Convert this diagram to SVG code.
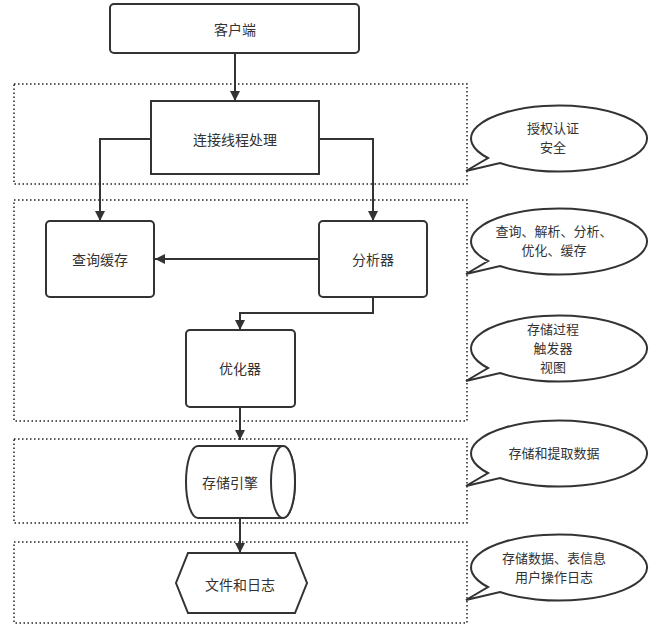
<svg xmlns="http://www.w3.org/2000/svg" width="652" height="640" viewBox="0 0 652 640">
<defs>
<style>
.node{fill:#fff;stroke:#333;stroke-width:2}
.grp{fill:none;stroke:#222;stroke-width:1.5;stroke-dasharray:1.5,2.5}
.edge{fill:none;stroke:#333;stroke-width:2}
.t{font-family:"Noto Sans CJK SC","Liberation Sans",sans-serif;font-size:14px;fill:#333;text-anchor:middle;dominant-baseline:central}
.c{font-size:13px}
.call{fill:#fff;stroke:#333;stroke-width:2}
</style>
<marker id="arr" viewBox="0 0 10 10" refX="10" refY="5" markerWidth="10" markerHeight="10" markerUnits="userSpaceOnUse" orient="auto">
<path d="M0,0 L10,5 L0,10 Z" fill="#333"/>
</marker>
</defs>
<rect width="652" height="640" fill="#fff"/>
<g id="groups">
<rect class="grp" x="14" y="84" width="453" height="100"/>
<rect class="grp" x="14" y="200" width="453" height="221"/>
<rect class="grp" x="14" y="439" width="453" height="84"/>
<rect class="grp" x="14" y="542" width="453" height="81"/>
</g>
<g id="connectors">
<path class="edge" d="M235,53 V101" marker-end="url(#arr)"/>
<path class="edge" d="M151,139 H100 V221" marker-end="url(#arr)"/>
<path class="edge" d="M319,139 H373 V221" marker-end="url(#arr)"/>
<path class="edge" d="M319,259 H155" marker-end="url(#arr)"/>
<path class="edge" d="M373,297 V313 H240 V330" marker-end="url(#arr)"/>
<path class="edge" d="M240,407 V440" marker-end="url(#arr)"/>
<path class="edge" d="M240,518 V553" marker-end="url(#arr)"/>
</g>
<g id="client">
<rect class="node" x="110" y="4" width="249" height="49" rx="4"/>
<text class="t" x="235" y="29">客户端</text>
</g>
<g id="connection">
<rect class="node" x="151" y="101" width="168" height="73"/>
<text class="t" x="235" y="139">连接线程处理</text>
</g>
<g id="querycache">
<rect class="node" x="46" y="221" width="108" height="76" rx="4"/>
<text class="t" x="100" y="259">查询缓存</text>
</g>
<g id="analyzer">
<rect class="node" x="319" y="221" width="108" height="76" rx="4"/>
<text class="t" x="373" y="259">分析器</text>
</g>
<g id="optimizer">
<rect class="node" x="186" y="330" width="109" height="77" rx="4"/>
<text class="t" x="240" y="368">优化器</text>
</g>
<g id="storage">
<path class="node" d="M198,446 H283 A12,36 0 0 1 283,518 H198 A12,36 0 0 1 198,446 Z"/>
<ellipse class="node" cx="283" cy="482" rx="12" ry="36"/>
<text class="t" x="230" y="482">存储引擎</text>
</g>
<g id="files">
<path class="node" d="M188,553 H295 L307,583 L295,613 H188 L176,583 Z"/>
<text class="t" x="240" y="584">文件和日志</text>
</g>
<g id="callout1" transform="translate(555,137)">
<path class="call" d="M-67,21 A88,33 0 1 1 -55,26 L-89,34 Z"/>
<text class="t c" x="-2" y="-10">授权认证</text>
<text class="t c" x="-2" y="9">安全</text>
</g>
<g id="callout2" transform="translate(555,240)">
<path class="call" d="M-67,21 A88,33 0 1 1 -55,26 L-89,34 Z"/>
<text class="t c" x="-1" y="-10">查询、解析、分析、</text>
<text class="t c" x="-1" y="9">优化、缓存</text>
</g>
<g id="callout3" transform="translate(555,347)">
<path class="call" d="M-67,21 A88,33 0 1 1 -55,26 L-89,34 Z"/>
<text class="t c" x="-2" y="-19">存储过程</text>
<text class="t c" x="-2" y="0">触发器</text>
<text class="t c" x="-2" y="19">视图</text>
</g>
<g id="callout4" transform="translate(555,452)">
<path class="call" d="M-67,21 A88,33 0 1 1 -55,26 L-89,34 Z"/>
<text class="t c" x="-1" y="0">存储和提取数据</text>
</g>
<g id="callout5" transform="translate(555,566)">
<path class="call" d="M-67,21 A88,33 0 1 1 -55,26 L-89,34 Z"/>
<text class="t c" x="-1" y="-9">存储数据、表信息</text>
<text class="t c" x="-1" y="10">用户操作日志</text>
</g>
</svg>
